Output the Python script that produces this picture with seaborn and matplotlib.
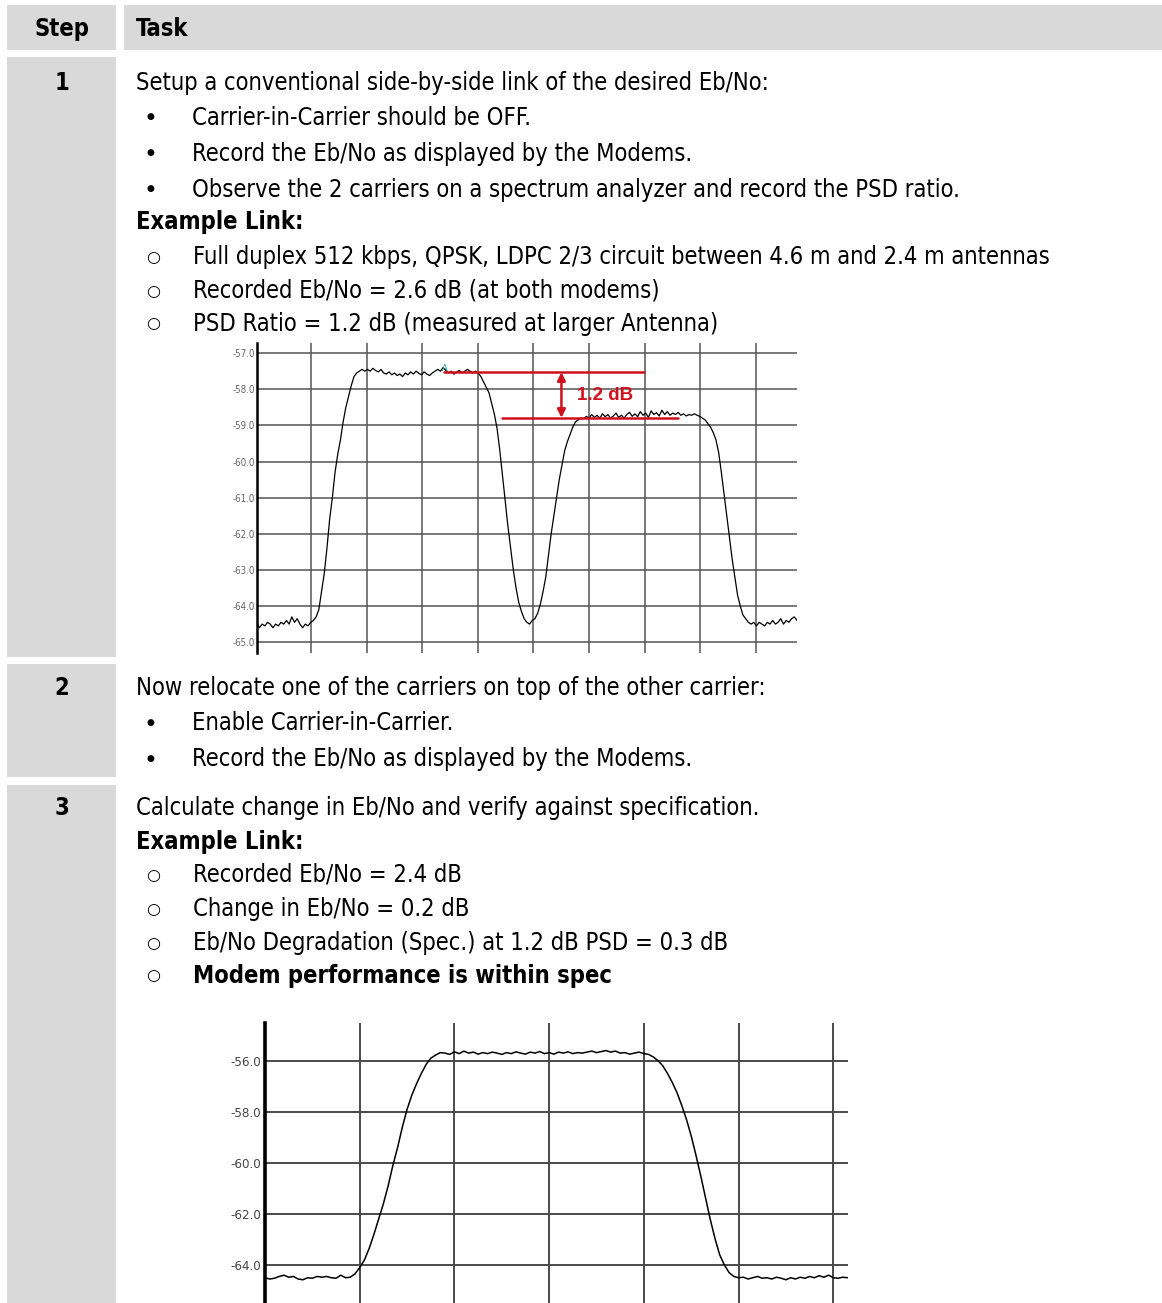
import numpy as np
import pandas as pd
import matplotlib
matplotlib.use("Agg")
import matplotlib.pyplot as plt
import seaborn as sns
from matplotlib.patches import Rectangle
from matplotlib import font_manager as fm

# ---------------- data ----------------
# Chart 1: side-by-side carriers (dB), sampled every 0.05 horizontal units
psd1_db = [
    -64.45, -64.6, -64.5, -64.55, -64.45, -64.5, -64.6, -64.5, -64.55, -64.45,
    -64.5, -64.4, -64.5, -64.3, -64.45, -64.35, -64.5, -64.6, -64.5, -64.55,
    -64.45, -64.4, -64.3, -64.1, -63.6, -63.1, -62.4, -61.6, -61.0, -60.3,
    -59.8, -59.4, -58.9, -58.5, -58.2, -57.9, -57.65, -57.55, -57.5, -57.45,
    -57.5, -57.45, -57.5, -57.42, -57.48, -57.52, -57.45, -57.55, -57.58, -57.52,
    -57.6, -57.55, -57.62, -57.58, -57.65, -57.55, -57.6, -57.52, -57.58, -57.5,
    -57.56, -57.6, -57.52, -57.58, -57.62, -57.55, -57.5, -57.45, -57.5, -57.4,
    -57.48, -57.55, -57.5, -57.58, -57.52, -57.48, -57.55, -57.5, -57.45, -57.5,
    -57.55, -57.5, -57.55, -57.65, -57.8, -57.95, -58.1, -58.4, -58.7, -59.1,
    -59.7, -60.4, -61.1, -61.8, -62.4, -63.0, -63.5, -63.9, -64.15, -64.35,
    -64.45, -64.5, -64.4, -64.35, -64.2, -63.95, -63.6, -63.2, -62.6, -62.0,
    -61.5, -61.0, -60.5, -60.1, -59.7, -59.45, -59.25, -59.05, -58.9, -58.85,
    -58.8, -58.82, -58.75, -58.8, -58.7, -58.78, -58.72, -58.8, -58.68, -58.76,
    -58.7, -58.8, -58.74, -58.66, -58.78, -58.72, -58.8, -58.7, -58.64, -58.75,
    -58.68, -58.76, -58.62, -58.72, -58.66, -58.78, -58.6, -58.7, -58.65, -58.74,
    -58.58, -58.7, -58.62, -58.72, -58.66, -58.7, -58.64, -58.72, -58.68, -58.74,
    -58.7, -58.72, -58.68, -58.72, -58.75, -58.8, -58.85, -58.95, -59.05, -59.2,
    -59.4, -59.75, -60.3, -60.9, -61.5, -62.1, -62.7, -63.2, -63.7, -64.0,
    -64.25, -64.35, -64.45, -64.5, -64.45, -64.55, -64.45, -64.5, -64.55, -64.45,
    -64.5, -64.4, -64.5, -64.45, -64.35, -64.5, -64.4, -64.45, -64.35, -64.3,
    -64.4,
]
chart1_yticks = [-57.0, -58.0, -59.0, -60.0, -61.0, -62.0, -63.0, -64.0, -65.0]
chart1_xgrid = [1.005, 2.034, 3.063, 4.092, 5.121, 6.150, 7.179, 8.208, 9.237]
psd_upper_db = -57.53
psd_lower_db = -58.79
psd_label = "1.2 dB"

# Chart 2: carrier-in-carrier composite (dB), sampled every 0.05 divisions
psd2_db = [
    -64.5, -64.55, -64.52, -64.45, -64.4, -64.48, -64.45, -64.55, -64.58, -64.5,
    -64.52, -64.45, -64.48, -64.45, -64.5, -64.52, -64.4, -64.5, -64.48, -64.35,
    -64.1, -63.8, -63.35, -62.8, -62.2, -61.6, -60.9, -60.1, -59.4, -58.6,
    -57.9, -57.35, -56.9, -56.5, -56.15, -55.9, -55.78, -55.68, -55.7, -55.75,
    -55.65, -55.72, -55.62, -55.7, -55.66, -55.74, -55.68, -55.72, -55.66, -55.7,
    -55.75, -55.68, -55.72, -55.65, -55.7, -55.74, -55.66, -55.7, -55.64, -55.72,
    -55.68, -55.74, -55.66, -55.7, -55.65, -55.72, -55.68, -55.7, -55.66, -55.62,
    -55.68, -55.64, -55.6, -55.66, -55.62, -55.7, -55.68, -55.74, -55.7, -55.66,
    -55.72, -55.75, -55.85, -56.0, -56.2, -56.5, -56.85, -57.25, -57.75, -58.3,
    -58.95, -59.7, -60.5, -61.35, -62.2, -62.95, -63.6, -64.0, -64.3, -64.45,
    -64.5, -64.48, -64.55, -64.5, -64.45, -64.52, -64.5, -64.55, -64.48, -64.52,
    -64.58, -64.5, -64.55, -64.48, -64.52, -64.45, -64.5, -64.42, -64.48, -64.4,
    -64.5, -64.52, -64.48, -64.5,
]
chart2_yticks = [-56.0, -58.0, -60.0, -62.0, -64.0]
chart2_xgrid = [1, 2, 3, 4, 5, 6]

header = ["Step", "Task"]
steps = ["1", "2", "3"]

# ---------------- fonts ----------------
W, H = 1162, 1303
sns.set_theme(style="white")

_fonts = fm.fontManager.ttflist
_names = {f.name for f in _fonts}
STRETCH = "normal"
if "Liberation Sans Narrow" in _names:
    BASEFAM = "Liberation Sans Narrow"
elif "Arial Narrow" in _names:
    BASEFAM = "Arial Narrow"
elif any(f.name == "DejaVu Sans" and str(f.stretch).lower() in ("condensed", "semi-condensed")
         for f in _fonts):
    BASEFAM = "DejaVu Sans"
    STRETCH = "condensed"
elif "Liberation Sans" in _names:
    BASEFAM = "Liberation Sans"
else:
    BASEFAM = "DejaVu Sans"
FAM = [BASEFAM, "DejaVu Sans"]
plt.rcParams["font.family"] = FAM

fig = plt.figure(figsize=(W / 100, H / 100), dpi=100)
fig.patch.set_facecolor("white")
renderer = fig.canvas.get_renderer()

def fx(x):
    return x / W

def fy(y):
    return 1 - y / H

# fit the body font size so the first body line spans the same width as in the reference
_probe = fig.text(0, 0, "Setup a conventional side-by-side link of the desired Eb/No:",
                  fontsize=20, family=FAM, fontstretch=STRETCH)
_w = _probe.get_window_extent(renderer).width
_probe.remove()
FS = 20 * 635.0 / _w

GREY = "#d9d9d9"
bg = fig.add_axes([0, 0, 1, 1], zorder=0)
bg.set_xlim(0, W)
bg.set_ylim(H, 0)
bg.axis("off")
for (x0, y0, x1, y1) in [(7, 5, 116, 50), (124, 5, 1162, 50),
                         (7, 57, 116, 657), (7, 664, 116, 777), (7, 785, 116, 1303)]:
    bg.add_patch(Rectangle((x0, y0), x1 - x0, y1 - y0, facecolor=GREY, edgecolor="none"))

def txt(x, y, s, bold=False, ha="left", size=None):
    fig.text(fx(x), fy(y), s, ha=ha, va="baseline", fontsize=size if size else FS,
             fontweight="bold" if bold else "normal", color="black",
             family=FAM, fontstretch=STRETCH, zorder=5)

def bullet(y):
    fig.text(fx(150), fy(y - 8), "\u25CF", ha="center", va="center", fontsize=6.5,
             family=["DejaVu Sans"], color="black", zorder=5)

def circ(y):
    fig.text(fx(153), fy(y - 7), "\u25CB", ha="center", va="center", fontsize=11.5,
             family=["DejaVu Sans"], color="black", zorder=5)

txt(62, 36, header[0], bold=True, ha="center")
txt(136, 36, header[1], bold=True)

# Row 1
txt(62, 90, steps[0], bold=True, ha="center")
txt(136, 90, "Setup a conventional side-by-side link of the desired Eb/No:")
for y, s in [(125, "Carrier-in-Carrier should be OFF."),
             (161, "Record the Eb/No as displayed by the Modems."),
             (197, "Observe the 2 carriers on a spectrum analyzer and record the PSD ratio.")]:
    bullet(y)
    txt(192, y, s)
txt(136, 229, "Example Link:", bold=True)
for y, s in [(264, "Full duplex 512 kbps, QPSK, LDPC 2/3 circuit between 4.6 m and 2.4 m antennas"),
             (298, "Recorded Eb/No = 2.6 dB (at both modems)"),
             (331, "PSD Ratio = 1.2 dB (measured at larger Antenna)")]:
    circ(y)
    txt(193, y, s)

# Row 2
txt(62, 695, steps[1], bold=True, ha="center")
txt(136, 695, "Now relocate one of the carriers on top of the other carrier:")
for y, s in [(730, "Enable Carrier-in-Carrier."),
             (766, "Record the Eb/No as displayed by the Modems.")]:
    bullet(y)
    txt(192, y, s)

# Row 3
txt(62, 815, steps[2], bold=True, ha="center")
txt(136, 815, "Calculate change in Eb/No and verify against specification.")
txt(136, 849, "Example Link:", bold=True)
for y, s, b in [(882, "Recorded Eb/No = 2.4 dB", False),
                (916, "Change in Eb/No = 0.2 dB", False),
                (950, "Eb/No Degradation (Spec.) at 1.2 dB PSD = 0.3 dB", False),
                (983, "Modem performance is within spec", True)]:
    circ(y)
    txt(193, y, s, bold=b)

# ---------------- chart helper ----------------
def make_chart(px_left, px_right, px_top, px_bottom, xlim, ylim, yticks, xgrid,
               values, step, lfs, pad, spine_lw, grid_lw, grid_col, line_lw, lab_col):
    ax = fig.add_axes([fx(px_left), fy(px_bottom), (px_right - px_left) / W,
                       (px_bottom - px_top) / H], zorder=3)
    ax.set_facecolor("none")
    df = pd.DataFrame({"freq": [i * step for i in range(len(values))], "level": values})
    sns.lineplot(data=df, x="freq", y="level", ax=ax, color="black", lw=line_lw,
                 estimator=None, zorder=4)
    ax.set_xlim(*xlim)
    ax.set_ylim(*ylim)
    ax.set_yticks(yticks)
    ax.set_yticklabels([f"{v:.1f}" for v in yticks])
    ax.set_xticks(xgrid)
    ax.set_xticklabels([])
    ax.set_xlabel("")
    ax.set_ylabel("")
    ax.grid(True, color=grid_col, lw=grid_lw)
    ax.set_axisbelow(True)
    ax.tick_params(axis="both", length=0, pad=pad, labelsize=lfs, labelcolor=lab_col)
    for lab in ax.get_yticklabels():
        lab.set_family(FAM)
        lab.set_fontstretch(STRETCH)
    for s in ["top", "right", "bottom"]:
        ax.spines[s].set_visible(False)
    ax.spines["left"].set_color("black")
    ax.spines["left"].set_linewidth(spine_lw)
    return ax

ax1 = make_chart(256.7, 797, 343, 653, (0, 10.0), (-65.30, -56.72),
                 chart1_yticks, chart1_xgrid, psd1_db, 0.05,
                 lfs=7, pad=1.5, spine_lw=1.8, grid_lw=1.1, grid_col="#555555",
                 line_lw=0.9, lab_col="#666666")

RED = "#d0101a"
ax1.plot([3.47, 7.17], [psd_upper_db, psd_upper_db], color=RED, lw=1.8, zorder=6)
ax1.plot([4.54, 7.79], [psd_lower_db, psd_lower_db], color=RED, lw=1.8, zorder=6)
ax1.annotate("", xy=(5.64, psd_upper_db), xytext=(5.64, psd_lower_db),
             arrowprops=dict(arrowstyle="<|-|>", color=RED, lw=1.8,
                             mutation_scale=12, shrinkA=0, shrinkB=0), zorder=6)
ax1.text(5.93, (psd_upper_db + psd_lower_db) / 2, psd_label, color=RED, fontsize=13.5,
         fontweight="bold", ha="left", va="center", family=["Liberation Sans", "DejaVu Sans"],
         zorder=7)
ax1.text(3.49, -57.55, "A", color="#1a9a8a", fontsize=6, ha="center", va="bottom",
         family=["DejaVu Sans"], zorder=5)

ax2 = make_chart(265, 847.7, 1023, 1303, (0, 6.152), (-65.49, -54.52),
                 chart2_yticks, chart2_xgrid, psd2_db, 0.05,
                 lfs=9.5, pad=3, spine_lw=2.6, grid_lw=1.4, grid_col="#4a4a4a",
                 line_lw=1.1, lab_col="#444444")

fig.savefig("out.png", dpi=100, facecolor="white")
